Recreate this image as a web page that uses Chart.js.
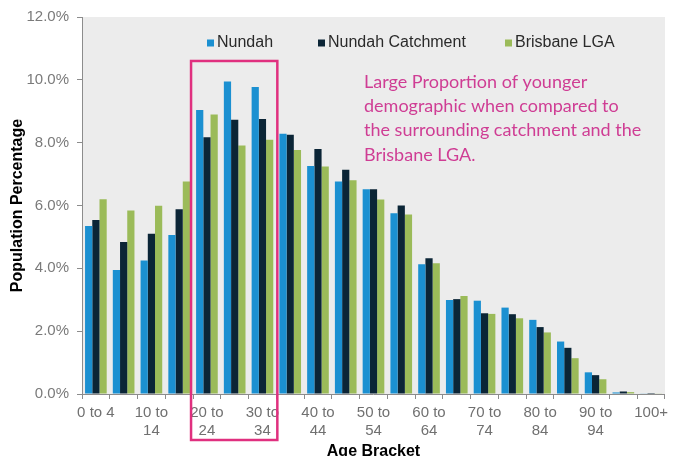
<!DOCTYPE html>
<html>
<head>
<meta charset="utf-8">
<script src="https://cdn.jsdelivr.net/npm/chart.js@4/dist/chart.umd.min.js"></script>
<style>
  html, body { margin: 0; padding: 0; background: #ffffff; }
  #wrap { width: 673px; height: 456px; position: relative; }
</style>
</head>
<body>
<div id="wrap"><canvas id="chart" width="673" height="456"></canvas></div>
<script>
// Age brackets (5-year bands)
const categories = [
  "0 to 4", "5 to 9", "10 to 14", "15 to 19", "20 to 24", "25 to 29", "30 to 34",
  "35 to 39", "40 to 44", "45 to 49", "50 to 54", "55 to 59", "60 to 64", "65 to 69",
  "70 to 74", "75 to 79", "80 to 84", "85 to 89", "90 to 94", "95 to 99", "100+"
];

// Share of population in each bracket (%)
const nundah = [5.35, 3.95, 4.25, 5.06, 9.04, 9.95, 9.77, 8.28, 7.26, 6.76, 6.52, 5.75, 4.13, 2.99, 2.97, 2.75, 2.36, 1.67, 0.69, 0.05, 0.02];
const nundahCatchment = [5.54, 4.84, 5.10, 5.88, 8.17, 8.73, 8.75, 8.25, 7.80, 7.14, 6.52, 6.00, 4.32, 3.02, 2.57, 2.54, 2.13, 1.47, 0.60, 0.08, 0.03];
const brisbaneLGA = [6.20, 5.84, 5.99, 6.76, 8.90, 7.91, 8.09, 7.77, 7.24, 6.80, 6.19, 5.71, 4.16, 3.12, 2.55, 2.41, 1.96, 1.14, 0.47, 0.06, 0.02];

const seriesNames = ["Nundah", "Nundah Catchment", "Brisbane LGA"];

// y-axis ticks (%)
const yTicks = [0, 2, 4, 6, 8, 10, 12];

// Highlighted brackets and the note beside them
const highlightFrom = 4;   // "20 to 24"
const highlightTo = 6;     // "30 to 34"
const highlightTop = 10.6; // %
const noteLines = [
  "Large Proportion of younger",
  "demographic when compared to",
  "the surrounding catchment and the",
  "Brisbane LGA."
];

const COLORS = ["#1b90d1", "#0b2536", "#9bbb59"];
const FONT = "'Liberation Sans', Arial, sans-serif";

// Grey plot background
const plotBackground = {
  id: "plotBackground",
  beforeDraw(chart) {
    const { ctx, chartArea: a } = chart;
    ctx.save();
    ctx.fillStyle = "#ececec";
    ctx.fillRect(a.left, a.top, a.right - a.left, a.bottom - a.top);
    ctx.restore();
  }
};

// Legend drawn inside the plot area, one entry per dataset
const legendX = [207, 318, 505];
const insideLegend = {
  id: "insideLegend",
  afterDatasetsDraw(chart) {
    const { ctx } = chart;
    ctx.save();
    ctx.font = "16px " + FONT;
    ctx.textBaseline = "middle";
    const y = 43;
    chart.data.datasets.forEach((ds, i) => {
      const x = legendX[i];
      ctx.fillStyle = ds.backgroundColor;
      ctx.fillRect(x, y - 3.5, 7, 7);
      ctx.fillStyle = "#2a2a2a";
      ctx.fillText(ds.label, x + 10, y);
    });
    ctx.restore();
  }
};

// Box around the highlighted brackets plus the note text
const highlightNote = {
  id: "highlightNote",
  afterDraw(chart) {
    const { ctx, chartArea: a } = chart;
    const xs = chart.scales.x, ys = chart.scales.y;
    const half = (xs.getPixelForValue(1) - xs.getPixelForValue(0)) / 2;
    const left = xs.getPixelForValue(highlightFrom) - half - 2;
    const right = xs.getPixelForValue(highlightTo) + half + 1;
    const top = ys.getPixelForValue(highlightTop);
    const bottom = a.bottom + 46;
    ctx.save();
    ctx.strokeStyle = "#e0307f";
    ctx.lineWidth = 2.5;
    ctx.strokeRect(left, top, right - left, bottom - top);

    ctx.fillStyle = "#cf3d94";
    ctx.font = "18px Lato, 'Open Sans', sans-serif";
    ctx.textBaseline = "middle";
    noteLines.forEach((line, i) => {
      ctx.fillText(line, 364, 82 + i * 24.3);
    });
    ctx.restore();
  }
};

new Chart(document.getElementById("chart"), {
  type: "bar",
  data: {
    labels: categories,
    datasets: [
      { label: seriesNames[0], data: nundah, backgroundColor: COLORS[0] },
      { label: seriesNames[1], data: nundahCatchment, backgroundColor: COLORS[1] },
      { label: seriesNames[2], data: brisbaneLGA, backgroundColor: COLORS[2] }
    ]
  },
  options: {
    responsive: false,
    animation: false,
    devicePixelRatio: 1,
    layout: { padding: { top: 17, right: 0, bottom: 0, left: 0 } },
    datasets: { bar: { categoryPercentage: 0.78, barPercentage: 1.0, borderWidth: 0 } },
    plugins: {
      legend: { display: false },
      tooltip: { enabled: false }
    },
    scales: {
      x: {
        offset: true,
        grid: {
          offset: true,
          drawOnChartArea: false,
          drawTicks: true,
          tickLength: 5,
          color: "#8c8c8c"
        },
        border: { color: "#8c8c8c", width: 1 },
        ticks: {
          autoSkip: false,
          maxRotation: 0,
          minRotation: 0,
          padding: 5,
          color: "#707070",
          font: { family: FONT, size: 15 },
          callback(value, index) {
            if (index % 2 !== 0) return "";
            const lbl = categories[index];
            if (lbl.length <= 6) return lbl;
            const cut = lbl.lastIndexOf(" ");
            return [lbl.slice(0, cut), lbl.slice(cut + 1)];
          }
        },
        title: {
          display: true,
          text: "Age Bracket",
          color: "#000000",
          font: { family: FONT, size: 16, weight: "bold", lineHeight: 0.6 },
          padding: { top: 0, bottom: 0 }
        },
        afterFit(scale) { scale.height = 62; }
      },
      y: {
        min: 0,
        max: 12,
        afterBuildTicks(scale) { scale.ticks = yTicks.map(v => ({ value: v })); },
        grid: {
          drawOnChartArea: false,
          drawTicks: true,
          tickLength: 5,
          color: "#8c8c8c"
        },
        border: { color: "#8c8c8c", width: 1 },
        ticks: {
          padding: 8,
          color: "#7a7a7a",
          font: { family: FONT, size: 15 },
          callback(v) { return v.toFixed(1) + "%"; }
        },
        title: {
          display: true,
          text: "Population Percentage",
          color: "#000000",
          font: { family: FONT, size: 16, weight: "bold" },
          padding: { top: 8, bottom: 0 }
        },
        afterFit(scale) { scale.width = 82; }
      }
    }
  },
  plugins: [plotBackground, insideLegend, highlightNote]
});
</script>
</body>
</html>
